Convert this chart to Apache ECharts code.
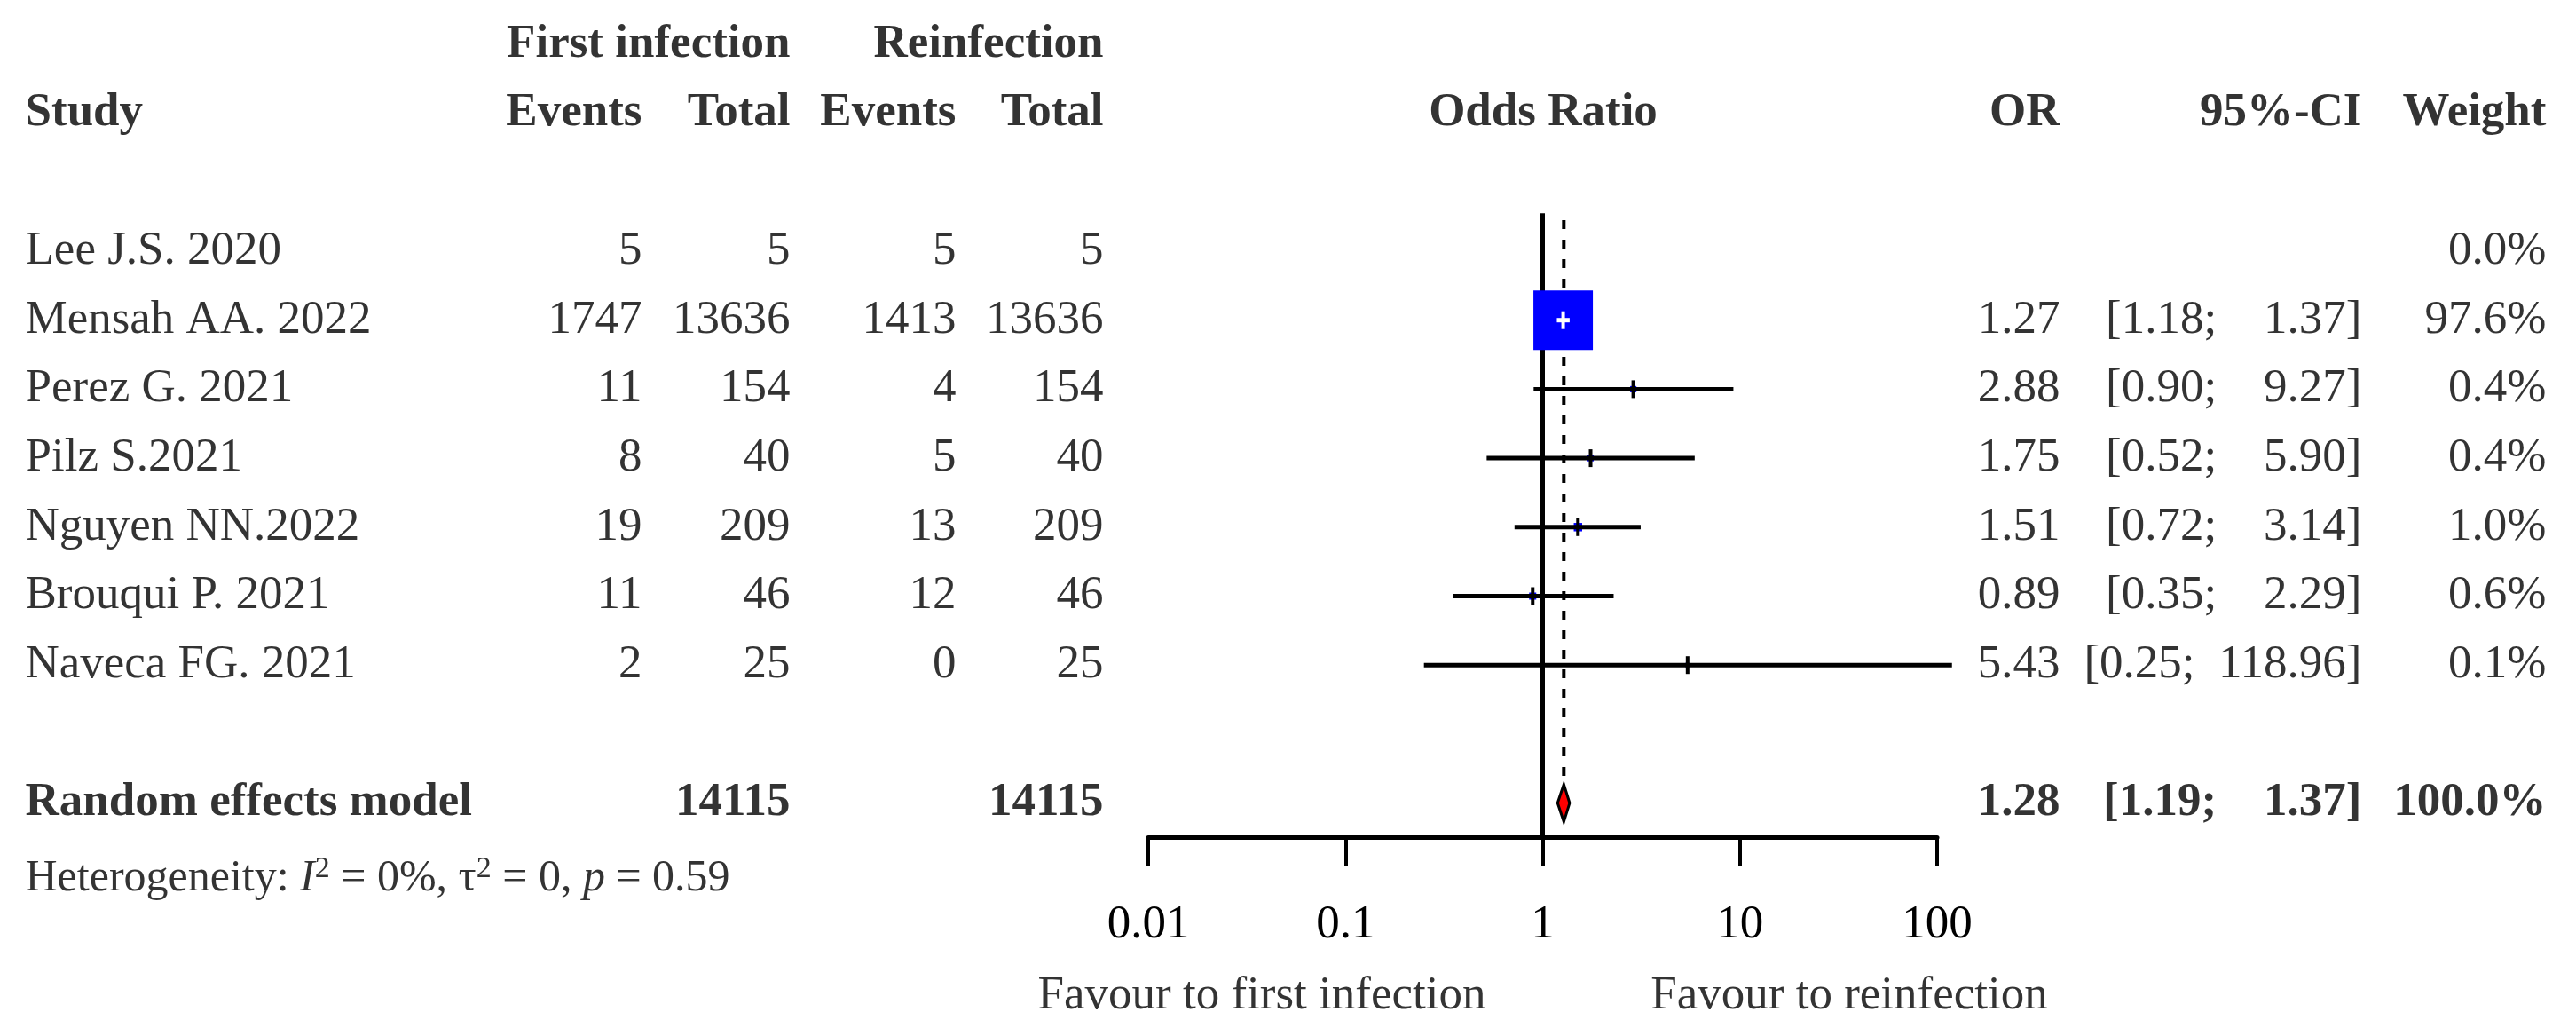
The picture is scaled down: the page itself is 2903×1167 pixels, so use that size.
<!DOCTYPE html>
<html>
<head>
<meta charset="utf-8">
<script src="https://cdn.jsdelivr.net/npm/echarts@6/dist/echarts.min.js"></script>
<style>
html,body{margin:0;padding:0;background:#fff;}
#chart{width:2903px;height:1167px;}
</style>
</head>
<body>
<div id="chart"></div>
<script>
// ---------------- data ----------------
var studies   = ["Lee J.S. 2020","Mensah AA. 2022","Perez G. 2021","Pilz S.2021","Nguyen NN.2022","Brouqui P. 2021","Naveca FG. 2021"];
var eventsFirst = [5, 1747, 11, 8, 19, 11, 2];
var totalFirst  = [5, 13636, 154, 40, 209, 46, 25];
var eventsRe    = [5, 1413, 4, 5, 13, 12, 0];
var totalRe     = [5, 13636, 154, 40, 209, 46, 25];
var oddsRatio = [null, 1.27, 2.88, 1.75, 1.51, 0.89, 5.43];
var ciLower   = [null, 1.18, 0.90, 0.52, 0.72, 0.35, 0.25];
var ciUpper   = [null, 1.37, 9.27, 5.90, 3.14, 2.29, 118.96];
var weights   = [0.0, 97.6, 0.4, 0.4, 1.0, 0.6, 0.1];
var pooledOR = [1.28];
var pooledLower = [1.19];
var pooledUpper = [1.37];
var pooledTotals = [14115, 14115];
var pooledWeight = [100.0];
var xTicks = [0.01, 0.1, 1, 10, 100];
var nullValue = [1];
var heterogeneity = {I2: "0%", tau2: "0", p: "0.59"};

// ---------------- layout ----------------
var W = 2903, H = 1167;
var ROW0 = 283, ROWH = 77.7;
var FONT = "'Liberation Serif','Times New Roman',serif";
var FS = 53;
var COL = {name: 28, ev1: 724, tot1: 891, ev2: 1078, tot2: 1244, odds: 1739, or: 2322, ci: 2662, w: 2870};
var FOREST = {left: 1294, right: W - 2183, ymin: -0.6, ymax: 8.5};
var ROW = {h1: -3, h2: -2, summary: 8, het: 9.1, favour: 10.8};

function fmtCI(lo, hi) {
  var hs = hi.toFixed(2);
  var pad = new Array(1 + Math.max(0, 6 - hs.length) + 1).join(" ");
  return "[" + lo.toFixed(2) + ";" + " " + pad + hs + "]";
}

function textSeries(points, align, bold, extraLabel) {
  var pos = align === 'left' ? 'right' : (align === 'right' ? 'left' : 'inside');
  var label = {
    show: true, position: pos, distance: 0,
    formatter: function (p) { return p.data[2]; },
    fontFamily: FONT, fontSize: FS, fontWeight: bold ? 'bold' : 'normal', color: '#000'
  };
  if (extraLabel) for (var k in extraLabel) label[k] = extraLabel[k];
  return {
    type: 'scatter', xAxisIndex: 0, yAxisIndex: 0, silent: true,
    symbolSize: 1, itemStyle: {color: 'rgba(0,0,0,0)'},
    label: label, data: points, z: 10
  };
}

var idx = studies.map(function (_, i) { return i; });
var series = [];
// headers
series.push(textSeries([[COL.tot1, ROW.h1, "First infection"], [COL.tot2, ROW.h1, "Reinfection"],
  [COL.ev1, ROW.h2, "Events"], [COL.tot1, ROW.h2, "Total"], [COL.ev2, ROW.h2, "Events"], [COL.tot2, ROW.h2, "Total"],
  [COL.or, ROW.h2, "OR"], [COL.ci, ROW.h2, "95%-CI"], [COL.w, ROW.h2, "Weight"]], 'right', true));
series.push(textSeries([[COL.name, ROW.h2, "Study"]], 'left', true));
series.push(textSeries([[COL.odds, ROW.h2, "Odds Ratio"]], 'center', true));
// study names
series.push(textSeries(idx.map(function (i) { return [COL.name, i, studies[i]]; }), 'left', false));
// numbers
var numPts = [];
idx.forEach(function (i) {
  numPts.push([COL.ev1, i, String(eventsFirst[i])]);
  numPts.push([COL.tot1, i, String(totalFirst[i])]);
  numPts.push([COL.ev2, i, String(eventsRe[i])]);
  numPts.push([COL.tot2, i, String(totalRe[i])]);
  if (oddsRatio[i] != null) {
    numPts.push([COL.or, i, oddsRatio[i].toFixed(2)]);
    numPts.push([COL.ci, i, fmtCI(ciLower[i], ciUpper[i])]);
  }
  numPts.push([COL.w, i, weights[i].toFixed(1) + "%"]);
});
series.push(textSeries(numPts, 'right', false));
// summary row
series.push(textSeries([[COL.name, ROW.summary, "Random effects model"]], 'left', true));
series.push(textSeries([[COL.tot1, ROW.summary, String(pooledTotals[0])], [COL.tot2, ROW.summary, String(pooledTotals[1])],
  [COL.or, ROW.summary, pooledOR[0].toFixed(2)], [COL.ci, ROW.summary, fmtCI(pooledLower[0], pooledUpper[0])],
  [COL.w, ROW.summary, pooledWeight[0].toFixed(1) + "%"]], 'right', true));
// heterogeneity
series.push(textSeries([[COL.name, ROW.het, ""]], 'left', false, {
  formatter: '{n|Heterogeneity: }{i|I}{s|2}{n| = ' + heterogeneity.I2 + ', τ}{s|2}{n| = ' + heterogeneity.tau2 + ', }{i|p}{n| = ' + heterogeneity.p + '}',
  rich: {
    n: {fontFamily: FONT, fontSize: 50, color: '#000', lineHeight: 56},
    i: {fontFamily: FONT, fontSize: 50, fontStyle: 'italic', color: '#000', lineHeight: 56},
    s: {fontFamily: FONT, fontSize: 34, color: '#000', verticalAlign: 'top', lineHeight: 34}
  }
}));
// favour labels
series.push(textSeries([[1422, ROW.favour, "Favour to first infection"], [2084, ROW.favour, "Favour to reinfection"]], 'center', false));

// ---- forest plot ----
var forestData = idx.filter(function (i) { return oddsRatio[i] != null; })
  .map(function (i) { return [i, oddsRatio[i], ciLower[i], ciUpper[i], weights[i]]; });
var maxW = Math.max.apply(null, weights);

// null-effect line
series.push({
  type: 'line', xAxisIndex: 1, yAxisIndex: 1, silent: true, symbol: 'none',
  data: [[nullValue[0], -0.55], [nullValue[0], FOREST.ymax]],
  lineStyle: {color: '#000', width: 5}, z: 2
});
// pooled dashed line
series.push({
  type: 'line', xAxisIndex: 1, yAxisIndex: 1, silent: true, symbol: 'none',
  data: [[pooledOR[0], -0.45], [pooledOR[0], ROW.summary - 0.3]],
  lineStyle: {color: '#000', width: 4, type: [10, 12]}, z: 2
});
// study boxes + CI
series.push({
  type: 'custom', xAxisIndex: 1, yAxisIndex: 1, silent: true, clip: false, z: 3,
  encode: {x: 1, y: 0},
  data: forestData,
  renderItem: function (params, api) {
    var v = api.value(0), or = api.value(1), lo = api.value(2), hi = api.value(3), w = api.value(4);
    var c = api.coord([or, v]), pl = api.coord([lo, v]), ph = api.coord([hi, v]);
    var side = 64 * Math.sqrt(w / maxW) + 3;
    var inside = pl[0] >= c[0] - side / 2 && ph[0] <= c[0] + side / 2;
    var lc = inside ? '#fff' : '#000';
    return {
      type: 'group',
      children: [
        {type: 'rect', shape: {x: c[0] - side / 2, y: c[1] - side / 2, width: side, height: side},
         style: {fill: '#0000FF'}},
        {type: 'line', shape: {x1: pl[0], y1: c[1], x2: ph[0], y2: c[1]},
         style: {stroke: lc, lineWidth: 5, lineCap: 'butt'}},
        {type: 'line', shape: {x1: c[0], y1: c[1] - 10, x2: c[0], y2: c[1] + 10},
         style: {stroke: lc, lineWidth: 4}}
      ]
    };
  }
});
// pooled diamond
series.push({
  type: 'custom', xAxisIndex: 1, yAxisIndex: 1, silent: true, clip: false, z: 4,
  encode: {x: 1, y: 0},
  data: [[ROW.summary, pooledOR[0], pooledLower[0], pooledUpper[0]]],
  renderItem: function (params, api) {
    var v = api.value(0);
    var c = api.coord([api.value(1), v]), pl = api.coord([api.value(2), v]), ph = api.coord([api.value(3), v]);
    var h = 21;
    return {
      type: 'polygon',
      shape: {points: [[pl[0], c[1]], [c[0], c[1] - h], [ph[0], c[1]], [c[0], c[1] + h]]},
      style: {fill: '#FF0000', stroke: '#000', lineWidth: 3}
    };
  }
});

var tMin = -ROW0 / ROWH, tMax = (H - ROW0) / ROWH;
var fTop = ROW0 + FOREST.ymin * ROWH, fBottom = H - (ROW0 + FOREST.ymax * ROWH);

var chart = echarts.init(document.getElementById('chart'), null, {renderer: 'canvas'});
chart.setOption({
  backgroundColor: '#fff',
  animation: false,
  grid: [
    {left: 0, right: 0, top: 0, bottom: 0},
    {left: FOREST.left, right: FOREST.right, top: fTop, bottom: fBottom}
  ],
  xAxis: [
    {gridIndex: 0, type: 'value', min: 0, max: W, show: false},
    {gridIndex: 1, type: 'log', logBase: 10, min: xTicks[0], max: xTicks[xTicks.length - 1], position: 'bottom',
     axisLine: {show: true, onZero: false, lineStyle: {color: '#000', width: 5}},
     axisTick: {show: true, inside: false, length: 32, lineStyle: {color: '#000', width: 4}},
     axisLabel: {show: true, margin: 72, fontFamily: FONT, fontSize: FS, color: '#000',
       formatter: function (v) { return String(+(+v).toPrecision(3)); }},
     splitLine: {show: false}, minorTick: {show: false}}
  ],
  yAxis: [
    {gridIndex: 0, type: 'value', min: tMin, max: tMax, inverse: true, show: false},
    {gridIndex: 1, type: 'value', min: FOREST.ymin, max: FOREST.ymax, inverse: true, show: false}
  ],
  series: series
});
</script>
</body>
</html>
